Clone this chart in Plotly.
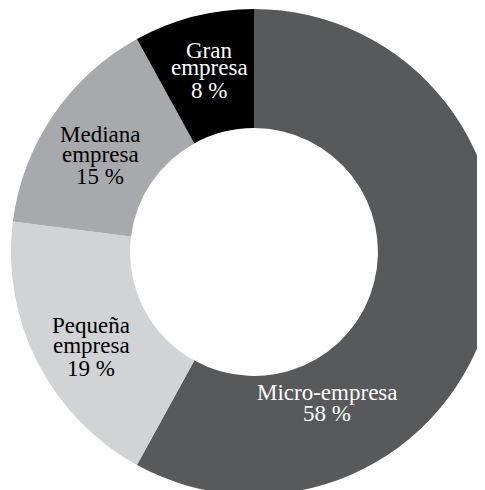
import plotly.graph_objects as go

# Data
categories = ["Micro-empresa", "Pequeña empresa", "Mediana empresa", "Gran empresa"]
values = [58, 19, 15, 8]
label_lines = [["Micro-empresa", "58 %"],
               ["Pequeña", "empresa", "19 %"],
               ["Mediana", "empresa", "15 %"],
               ["Gran", "empresa", "8 %"]]

# Styles / layout
colors = ["#58595b", "#d1d3d4", "#a7a9ac", "#000000"]
text_colors = ["white", "black", "black", "white"]
# label line positions in page pixels (x center, baselines)
label_x = [327, 91, 100, 209]
label_baselines = [[399, 420], [332, 352, 375], [141, 161, 183], [57, 74, 97]]

OFF = 8  # page body margin
W, H = 510, 500
cx, cy, R = 254 - OFF, 252 - OFF, 243
FS = 23

fig = go.Figure(go.Pie(
    labels=categories,
    values=values,
    sort=False,
    direction="clockwise",
    rotation=0,
    hole=0.51,
    marker=dict(colors=colors, line=dict(width=0)),
    textinfo="none",
    hoverinfo="label+percent",
    domain=dict(x=[(cx - R) / W, (cx + R) / W], y=[1 - (cy + R) / H, 1 - (cy - R) / H]),
    showlegend=False,
))

annotations = []
for lines, x, bases, tc in zip(label_lines, label_x, label_baselines, text_colors):
    for line, b in zip(lines, bases):
        annotations.append(dict(
            text=line, x=(x - OFF) / W, y=1 - (b - OFF - 0.3 * FS) / H,
            xref="paper", yref="paper", xanchor="center", yanchor="middle",
            showarrow=False, font=dict(family="Liberation Serif", size=FS, color=tc),
        ))

fig.update_layout(
    width=W, height=H,
    margin=dict(l=0, r=0, t=0, b=0),
    paper_bgcolor="white", plot_bgcolor="white",
    annotations=annotations,
)

fig.write_html("out.html")
